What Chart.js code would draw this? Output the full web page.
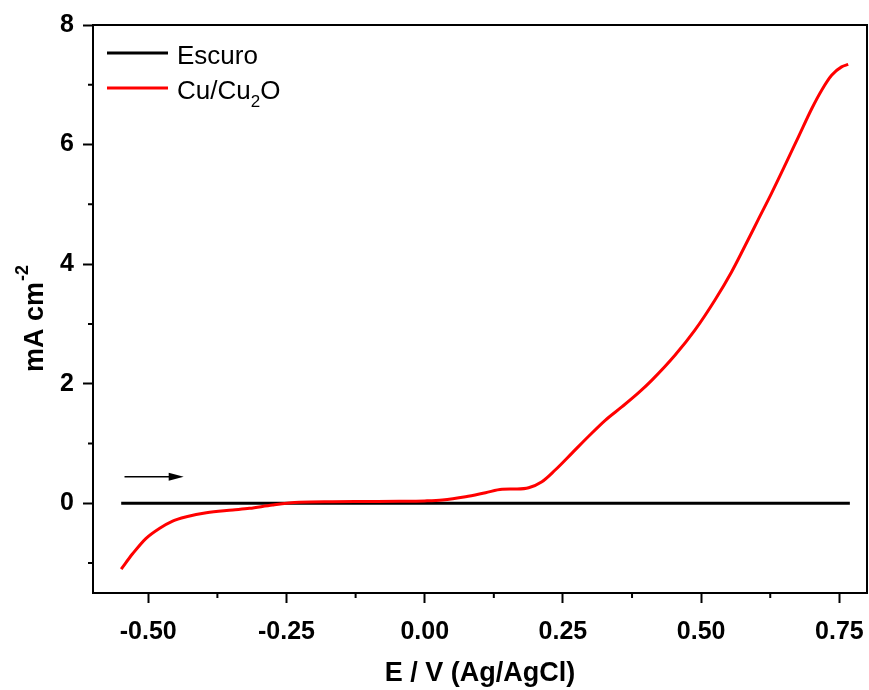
<!DOCTYPE html>
<html>
<head>
<meta charset="utf-8">
<script src="https://cdn.jsdelivr.net/npm/chart.js@4.4.0/dist/chart.umd.min.js"></script>
<style>
  body { margin: 0; background: #fff; }
  canvas { display: block; }
</style>
</head>
<body>
<canvas id="lsvChart" width="869" height="690"></canvas>
<script>
// Data
var escuroX = [-0.549, -0.25, 0.0, 0.25, 0.5, 0.769];
var escuroY = [0.0, 0.0, 0.0, 0.0, 0.0, 0.0];

var cuX = [-0.549, -0.528, -0.504, -0.480, -0.456, -0.431, -0.395, -0.347, -0.317, -0.275,
           -0.227, -0.167, -0.106, -0.046, 0.000, 0.032, 0.074, 0.110, 0.140, 0.164,
           0.188, 0.212, 0.236, 0.266, 0.297, 0.327, 0.357, 0.387, 0.411, 0.453,
           0.489, 0.525, 0.555, 0.579, 0.603, 0.627, 0.652, 0.676, 0.700, 0.718,
           0.736, 0.754, 0.766];
var cuY = [-1.10, -0.84, -0.585, -0.42, -0.296, -0.224, -0.157, -0.112, -0.084, -0.028,
           0.017, 0.027, 0.030, 0.033, 0.040, 0.055, 0.110, 0.177, 0.234, 0.239,
           0.261, 0.361, 0.557, 0.836, 1.126, 1.393, 1.616, 1.85, 2.06, 2.48,
           2.90, 3.40, 3.87, 4.30, 4.74, 5.18, 5.66, 6.13, 6.60, 6.91,
           7.16, 7.30, 7.34];

var xTicks = [-0.5, -0.25, 0, 0.25, 0.5, 0.75];
var xMinorTicks = [-0.375, -0.125, 0.125, 0.375, 0.625];
var yTicks = [0, 2, 4, 6, 8];
var yMinorTicks = [-1, 1, 3, 5, 7];

// scan direction arrow (data coords)
var arrowFrom = [-0.543, 0.445];
var arrowTo = [-0.436, 0.445];

function toPoints(xs, ys) {
    return xs.map(function(x, i) { return { x: x, y: ys[i] }; });
}

var FONT = '"Liberation Sans", Arial, sans-serif';

// extra drawing: frame, minor ticks, titles, legend, arrow
var decorations = {
    id: 'decorations',
    afterDraw: function(chart) {
        var ctx = chart.ctx;
        var area = chart.chartArea;
        var xs = chart.scales.x;
        var ys = chart.scales.y;
        ctx.save();

        // top + right frame
        ctx.strokeStyle = '#000';
        ctx.lineWidth = 2;
        ctx.beginPath();
        ctx.moveTo(area.left, area.top);
        ctx.lineTo(area.right, area.top);
        ctx.lineTo(area.right, area.bottom);
        ctx.stroke();

        // minor ticks
        ctx.lineWidth = 2;
        ctx.beginPath();
        xMinorTicks.forEach(function(v) {
            var px = xs.getPixelForValue(v);
            ctx.moveTo(px, area.bottom);
            ctx.lineTo(px, area.bottom + 5);
        });
        yMinorTicks.forEach(function(v) {
            var py = ys.getPixelForValue(v);
            ctx.moveTo(area.left, py);
            ctx.lineTo(area.left - 5, py);
        });
        ctx.stroke();

        // arrow
        var ax0 = xs.getPixelForValue(arrowFrom[0]);
        var ax1 = xs.getPixelForValue(arrowTo[0]);
        var ay = ys.getPixelForValue(arrowFrom[1]);
        ctx.lineWidth = 1.5;
        ctx.beginPath();
        ctx.moveTo(ax0, ay);
        ctx.lineTo(ax1 - 12, ay);
        ctx.stroke();
        ctx.fillStyle = '#000';
        ctx.beginPath();
        ctx.moveTo(ax1, ay);
        ctx.lineTo(ax1 - 15, ay - 4);
        ctx.lineTo(ax1 - 15, ay + 4);
        ctx.closePath();
        ctx.fill();

        // x title
        ctx.fillStyle = '#000';
        ctx.font = 'bold 27px ' + FONT;
        ctx.textAlign = 'center';
        ctx.textBaseline = 'alphabetic';
        ctx.fillText('E / V (Ag/AgCl)', (area.left + area.right) / 2, 681);

        // y title with superscript
        ctx.save();
        ctx.translate(43, 372);
        ctx.rotate(-Math.PI / 2);
        ctx.textAlign = 'left';
        ctx.font = 'bold 27px ' + FONT;
        ctx.fillText('mA cm', 0, 0);
        var w = ctx.measureText('mA cm').width;
        ctx.font = 'bold 18px ' + FONT;
        ctx.fillText('-2', w + 1, -15);
        ctx.restore();

        // legend
        ctx.lineWidth = 3;
        ctx.strokeStyle = '#000';
        ctx.beginPath();
        ctx.moveTo(107, 53);
        ctx.lineTo(168, 53);
        ctx.stroke();
        ctx.strokeStyle = '#ff0000';
        ctx.beginPath();
        ctx.moveTo(107, 88);
        ctx.lineTo(168, 88);
        ctx.stroke();

        ctx.fillStyle = '#000';
        ctx.textAlign = 'left';
        ctx.font = '26px ' + FONT;
        ctx.fillText('Escuro', 177, 64);
        ctx.fillText('Cu/Cu', 177, 99);
        var w2 = ctx.measureText('Cu/Cu').width;
        ctx.font = '17px ' + FONT;
        ctx.fillText('2', 177 + w2, 107);
        var w3 = ctx.measureText('2').width;
        ctx.font = '26px ' + FONT;
        ctx.fillText('O', 177 + w2 + w3, 99);

        ctx.restore();
    }
};

var ctx = document.getElementById('lsvChart').getContext('2d');
var lsvChart = new Chart(ctx, {
    type: 'scatter',
    data: {
        datasets: [{
            label: 'Escuro',
            data: toPoints(escuroX, escuroY),
            showLine: true,
            borderColor: '#000000',
            borderWidth: 3,
            pointRadius: 0,
            order: 1
        }, {
            label: 'Cu/Cu2O',
            data: toPoints(cuX, cuY),
            showLine: true,
            borderColor: '#ff0000',
            borderWidth: 3,
            pointRadius: 0,
            cubicInterpolationMode: 'monotone',
            order: 0
        }]
    },
    options: {
        responsive: false,
        animation: false,
        events: [],
        layout: {
            padding: { top: 25, right: 2, left: 0, bottom: 0 }
        },
        plugins: {
            legend: { display: false },
            tooltip: { enabled: false }
        },
        scales: {
            x: {
                type: 'linear',
                min: -0.6,
                max: 0.8,
                afterFit: function(scale) {
                    scale.height = 97;
                    scale.paddingLeft = 0;
                    scale.paddingRight = 0;
                },
                afterBuildTicks: function(scale) {
                    scale.ticks = xTicks.map(function(v) { return { value: v }; });
                },
                ticks: {
                    color: '#000',
                    padding: 14,
                    maxRotation: 0,
                    font: { family: FONT, size: 25, weight: 'bold' },
                    callback: function(value) { return Number(value).toFixed(2); }
                },
                grid: {
                    drawOnChartArea: false,
                    drawTicks: true,
                    tickLength: 10,
                    tickWidth: 2,
                    tickColor: '#000'
                },
                border: { display: true, color: '#000', width: 2 }
            },
            y: {
                type: 'linear',
                min: -1.5,
                max: 8,
                afterFit: function(scale) {
                    scale.width = 93;
                    scale.paddingTop = 0;
                    scale.paddingBottom = 0;
                },
                afterBuildTicks: function(scale) {
                    scale.ticks = yTicks.map(function(v) { return { value: v }; });
                },
                ticks: {
                    color: '#000',
                    padding: 9,
                    font: { family: FONT, size: 25, weight: 'bold' },
                    callback: function(value) { return String(value); }
                },
                grid: {
                    drawOnChartArea: false,
                    drawTicks: true,
                    tickLength: 10,
                    tickWidth: 2,
                    tickColor: '#000'
                },
                border: { display: true, color: '#000', width: 2 }
            }
        }
    },
    plugins: [decorations]
});
</script>
</body>
</html>
